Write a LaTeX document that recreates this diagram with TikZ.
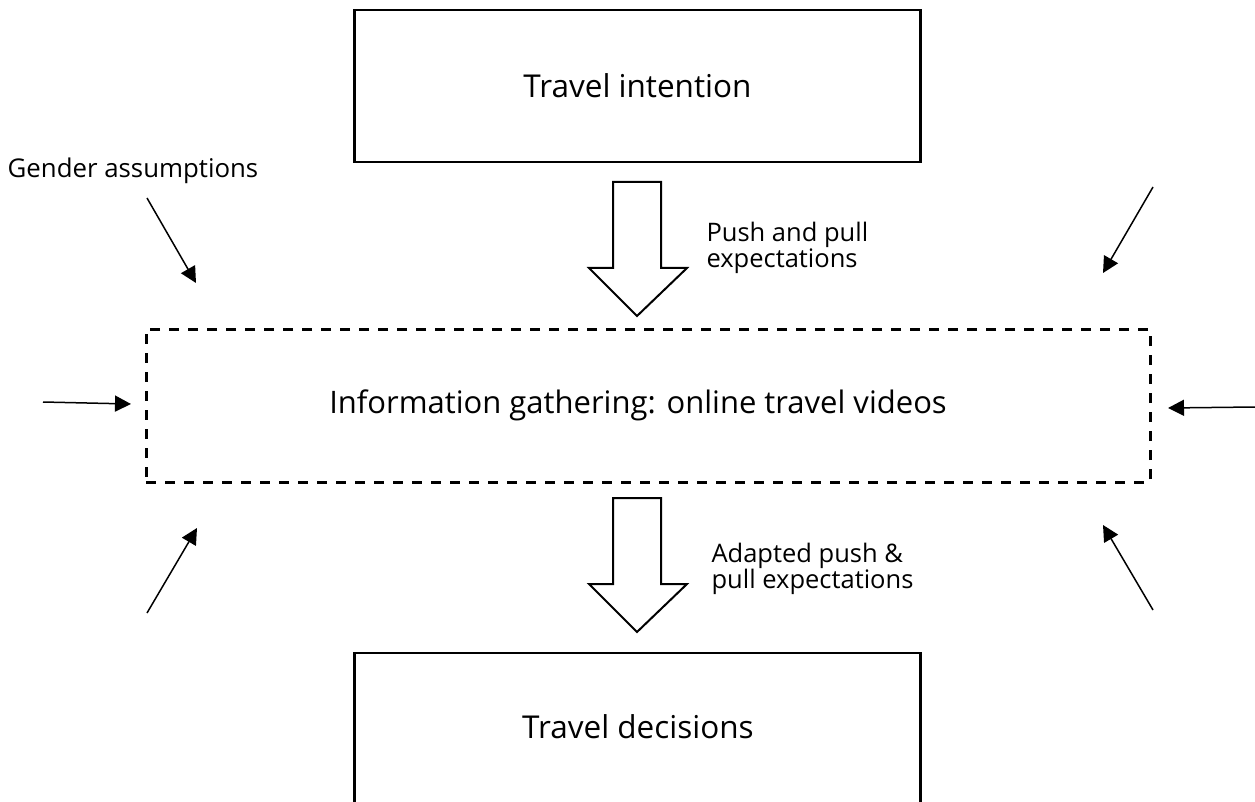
\documentclass[tikz,border=0pt]{standalone}
\usepackage{fontspec}
\setmainfont{Open Sans}
\usetikzlibrary{arrows.meta}
\begin{document}
\begin{tikzpicture}[x=1pt,y=-1pt,
  solidbox/.style={draw=black,line width=2.8pt,minimum width=566pt,inner sep=0pt},
  dashbox/.style={draw=black,line width=3pt,dash pattern=on 10pt off 9pt,minimum width=1004pt,minimum height=153pt,inner sep=0pt},
  maintext/.style={font=\fontsize{31.5}{36}\selectfont},
  sidetext/.style={font=\fontsize{25.5}{26.5}\selectfont,align=left,anchor=west},
  inflow/.style={line width=1.5pt,-{Triangle[length=16pt,width=16pt]}},
  bigarrow/.style={draw=black,line width=2pt,fill=white,line join=miter}]
\useasboundingbox (0,0) rectangle (1255,802);
\clip (0,0) rectangle (1255,802);

% main boxes
\node[solidbox,minimum height=152pt,maintext] (intent) at (637.5,86) {Travel intention};
\node[dashbox] (info) at (648,405.5) {};
\node[font=\fontsize{31}{36}\selectfont] (infotext) at (638,405) {Information gathering: online travel videos};
\node[solidbox,minimum height=170pt] (decide) at (637.5,738) {};
\node[maintext] (decidetext) at (638,727) {Travel decisions};

% hollow block arrows between the stages
\draw[bigarrow] (613,182) -- (661,182) -- (661,268) -- (687,268) -- (637,316)
  -- (589,268) -- (613,268) -- cycle;
\draw[bigarrow] (613,498) -- (661,498) -- (661,584) -- (687,584) -- (637,632)
  -- (589,584) -- (613,584) -- cycle;

\node[sidetext] (pushpull) at (703,248) {Push and pull\\expectations};
\node[sidetext] (adapted) at (708,569) {Adapted push \&\\pull expectations};

% outside influences
\node[font=\fontsize{25.8}{30}\selectfont] (gender) at (133,171) {Gender assumptions};

\coordinate (tlS) at (147,198);  \coordinate (tlE) at (196,283);
\coordinate (trS) at (1153,187); \coordinate (trE) at (1103,273);
\coordinate (lS) at (43,402);    \coordinate (lE) at (131,404);
\coordinate (rS) at (1255,407);  \coordinate (rE) at (1168,408);
\coordinate (blS) at (147,613);  \coordinate (blE) at (197,528);
\coordinate (brS) at (1153,610); \coordinate (brE) at (1103,525);

\draw[inflow] (tlS) -- (tlE);
\draw[inflow] (trS) -- (trE);
\draw[inflow] (lS) -- (lE);
\draw[inflow] (rS) -- (rE);
\draw[inflow] (blS) -- (blE);
\draw[inflow] (brS) -- (brE);
\end{tikzpicture}
\end{document}
